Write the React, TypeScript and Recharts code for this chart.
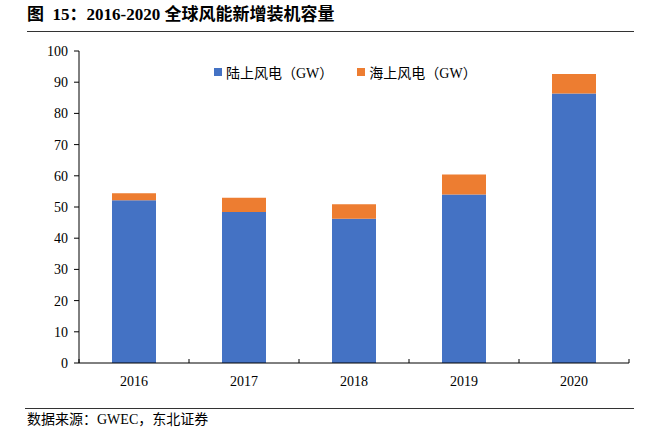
import React from 'react'
import { Bar, BarChart, Legend, XAxis, YAxis } from 'recharts'

const years = ['2016', '2017', '2018', '2019', '2020']
const onshore = [52.2, 48.4, 46.2, 54.0, 86.4]
const offshore = [2.2, 4.6, 4.7, 6.4, 6.2]
const yTicks = [0, 10, 20, 30, 40, 50, 60, 70, 80, 90, 100]
const seriesNames = ['陆上风电（GW）', '海上风电（GW）']

const data = years.map((year, i) => ({ year, onshore: onshore[i], offshore: offshore[i] }))

const FONT = "'Liberation Serif', 'Noto Sans CJK SC', serif"

// 类目轴：刻度线画在类目边界上，向上
function YearTick(props: any) {
  const { x, y, payload, index, visibleTicksCount } = props
  const half = payload && payload.offset ? payload.offset : 55
  return (
    <g>
      <line x1={x - half} y1={y} x2={x - half} y2={y - 4} stroke="#000" />
      {index === visibleTicksCount - 1 && (
        <line x1={x + half} y1={y} x2={x + half} y2={y - 4} stroke="#000" />
      )}
      <text x={x} y={y + 18} textAnchor="middle" dominantBaseline="central" fontSize={14} fill="#000" fontFamily={FONT}>
        {payload.value}
      </text>
    </g>
  )
}

function LegendContent(props: any) {
  const items = [...(props.payload || [])].sort(
    (a: any, b: any) => seriesNames.indexOf(a.value) - seriesNames.indexOf(b.value)
  )
  return (
    <div style={{ display: 'flex', fontFamily: FONT, fontSize: 14, color: '#000' }}>
      {items.map((p: any) => (
        <div key={p.value} style={{ display: 'flex', alignItems: 'center', marginRight: 24 }}>
          <span style={{ width: 8, height: 8, background: p.color, display: 'inline-block', marginRight: 4 }} />
          <span>{p.value}</span>
        </div>
      ))}
    </div>
  )
}

export default function App() {
  return (
    <div style={{ position: 'absolute', left: 0, top: 0, width: 656, height: 431, background: '#fff', fontFamily: FONT }}>
      <div style={{ position: 'absolute', left: 27, top: 4, fontSize: 17, fontWeight: 'bold', whiteSpace: 'pre', lineHeight: '22px' }}>
        图  15：2016-2020 全球风能新增装机容量
      </div>
      <div style={{ position: 'absolute', left: 27, top: 31, width: 607, height: 1, background: '#333' }} />
      <BarChart
        width={656}
        height={431}
        data={data}
        margin={{ top: 51, right: 27, bottom: 38, left: 0 }}
        barSize={44}
      >
        <XAxis
          dataKey="year"
          axisLine={{ stroke: '#000' }}
          tickLine={false}
          tickSize={0}
          tickMargin={0}
          height={30}
          tick={<YearTick />}
          interval={0}
        />
        <YAxis
          domain={[0, 100]}
          ticks={yTicks}
          width={79}
          axisLine={{ stroke: '#000' }}
          tickLine={{ stroke: '#000' }}
          tickSize={5}
          tickMargin={6}
          tick={{ fill: '#000', fontSize: 14, fontFamily: FONT }}
          interval={0}
        />
        <Legend
          verticalAlign="middle"
          content={<LegendContent />}
          wrapperStyle={{ top: 62, left: 214, width: 320 }}
        />
        <Bar dataKey="onshore" name={seriesNames[0]} stackId="a" fill="#4472C4" isAnimationActive={false} />
        <Bar dataKey="offshore" name={seriesNames[1]} stackId="a" fill="#ED7D31" isAnimationActive={false} />
      </BarChart>
      <div style={{ position: 'absolute', left: 25, top: 408, width: 609, height: 1, background: '#333' }} />
      <div style={{ position: 'absolute', left: 27, top: 411, fontSize: 14, lineHeight: '18px', whiteSpace: 'pre' }}>
        数据来源：GWEC，东北证券
      </div>
    </div>
  )
}
